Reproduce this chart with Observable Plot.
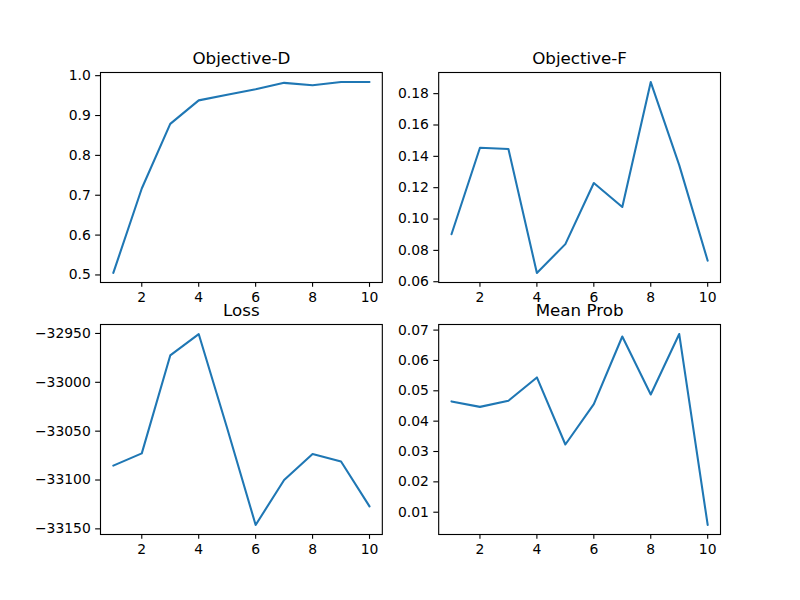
<!DOCTYPE html>
<html>
<head>
<meta charset="utf-8">
<script src="https://cdn.jsdelivr.net/npm/d3@7"></script>
<script src="https://cdn.jsdelivr.net/npm/@observablehq/plot@0.6"></script>
<style>
  html, body { margin: 0; padding: 0; background: #fff; }
  #chart { position: relative; width: 800px; height: 600px; background: #fff; }
  #chart svg { position: absolute; left: 0; top: 0; }
</style>
</head>
<body>
<div id="chart"></div>
<script>
const steps = [1, 2, 3, 4, 5, 6, 7, 8, 9, 10];
const objectiveD = [0.505, 0.717, 0.879, 0.938, 0.952, 0.966, 0.982, 0.976, 0.984, 0.984];
const objectiveF = [0.0903, 0.1455, 0.1447, 0.0656, 0.0840, 0.1230, 0.1077, 0.1874, 0.1344, 0.0734];
const loss = [-33085.3, -33072.7, -32972.5, -32950.6, -33047, -33146, -33100, -33073.3, -33081, -33127];
const meanProb = [0.0465, 0.0447, 0.0467, 0.0544, 0.0323, 0.0456, 0.0679, 0.0488, 0.0687, 0.0058];

const xTicks = [2, 4, 6, 8, 10];
const dTicks = [0.5, 0.6, 0.7, 0.8, 0.9, 1.0];
const fTicks = [0.06, 0.08, 0.10, 0.12, 0.14, 0.16, 0.18];
const lossTicks = [-33150, -33100, -33050, -33000, -32950];
const probTicks = [0.01, 0.02, 0.03, 0.04, 0.05, 0.06, 0.07];

const W = 800, H = 600;
const axW = 281.82, axH = 210;
const lefts = [100, 438.18];
const tops = [72, 324];
const tick = 4.86, pad = 4.86, lw = 1.11;

function padded(arr) {
  const lo = d3.min(arr), hi = d3.max(arr), m = (hi - lo) * 0.05;
  return [lo - m, hi + m];
}

function panel(title, values, yTicks, fmt, col, row) {
  const left = lefts[col], top = tops[row];
  const data = values.map((v, i) => ({x: steps[i], y: v}));
  return Plot.plot({
    width: W, height: H,
    marginLeft: left, marginRight: W - left - axW,
    marginTop: top, marginBottom: H - top - axH,
    style: {fontFamily: "DejaVu Sans", fontSize: "13.9px", color: "black", background: "transparent", overflow: "visible"},
    x: {domain: padded(steps)},
    y: {domain: padded(values)},
    marks: [
      Plot.axisX({ticks: xTicks, tickSize: tick, tickPadding: pad, strokeWidth: lw, label: null, tickFormat: d => String(d)}),
      Plot.axisY({ticks: yTicks, tickSize: tick, tickPadding: pad, strokeWidth: lw, label: null, tickFormat: fmt}),
      Plot.line(data, {x: "x", y: "y", stroke: "#1f77b4", strokeWidth: 2.08}),
      Plot.frame({stroke: "black", strokeWidth: lw}),
      Plot.text([title], {frameAnchor: "top", dy: -8.3, lineAnchor: "bottom", fontSize: 16.7, fill: "black", text: d => d})
    ]
  });
}

const minus = s => s.replace("-", "\u2212");
const root = document.getElementById("chart");
root.appendChild(panel("Objective-D", objectiveD, dTicks, d => d.toFixed(1), 0, 0));
root.appendChild(panel("Objective-F", objectiveF, fTicks, d => d.toFixed(2), 1, 0));
root.appendChild(panel("Loss", loss, lossTicks, d => minus(String(d)), 0, 1));
root.appendChild(panel("Mean Prob", meanProb, probTicks, d => d.toFixed(2), 1, 1));
</script>
</body>
</html>
